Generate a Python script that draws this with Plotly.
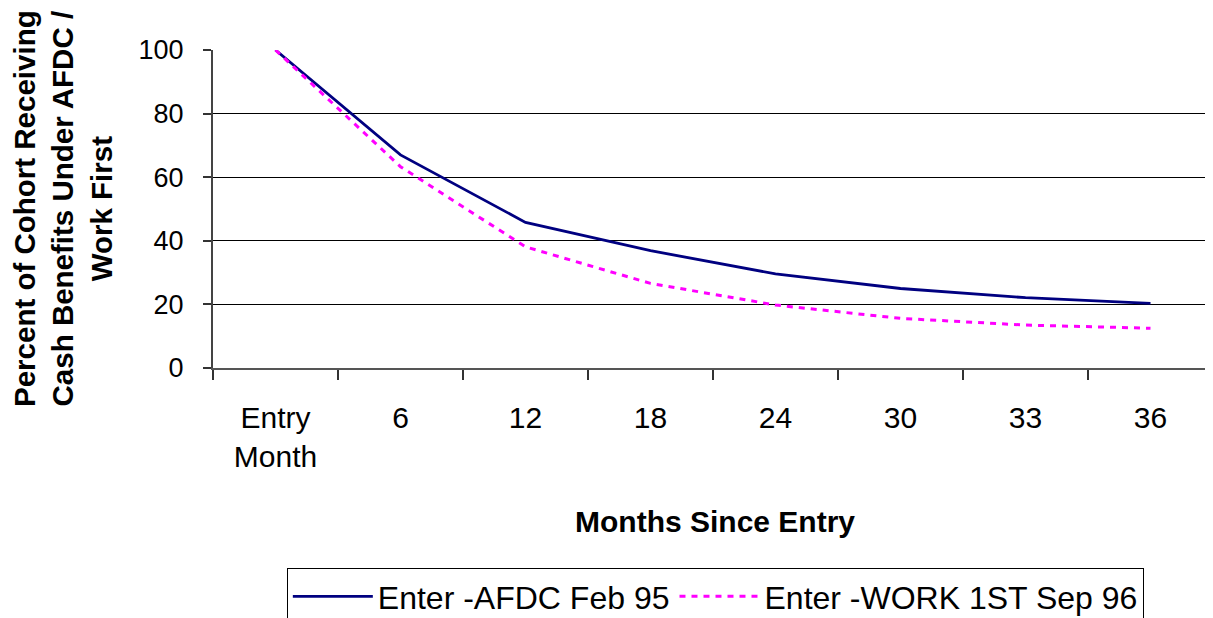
import plotly.graph_objects as go

categories = ["Entry<br>Month", "6", "12", "18", "24", "30", "33", "36"]
afdc_feb95 = [100, 67, 45.8, 36.9, 29.6, 25.0, 22.1, 20.3]
work1st_sep96 = [100, 63.3, 38.1, 26.6, 19.8, 15.6, 13.5, 12.5]
y_ticks = [0, 20, 40, 60, 80, 100]

FONT = "Liberation Sans, Arial, sans-serif"

# The page body has an 8px default margin, so the figure is sized 8px smaller
W, H = 1205, 610

fig = go.Figure()
fig.add_trace(go.Scatter(
    x=categories, y=afdc_feb95, mode="lines",
    name="Enter -AFDC Feb 95",
    line=dict(color="#000080", width=2.8),
))
fig.add_trace(go.Scatter(
    x=categories, y=work1st_sep96, mode="lines",
    name="Enter -WORK 1ST Sep 96",
    line=dict(color="#FF00FF", width=3, dash="6px,6px"),
))

fig.update_layout(
    width=W, height=H,
    margin=dict(l=205, r=0, t=42, b=250, autoexpand=False),
    paper_bgcolor="white", plot_bgcolor="white",
    font=dict(family=FONT, color="black"),
    showlegend=True,
    legend=dict(
        orientation="h",
        xref="container", yref="container",
        x=0.587, xanchor="center",
        y=(H - 560) / H, yanchor="top",
        font=dict(size=32, family=FONT, color="black"),
        bordercolor="black", borderwidth=1, bgcolor="white",
        itemwidth=80,
    ),
    xaxis=dict(
        type="category",
        categoryorder="array", categoryarray=categories,
        range=[-0.5, 7.5],
        tickson="boundaries",
        ticks="outside", ticklen=10, tickcolor="#333", tickwidth=1.5,
        showline=True, linecolor="#555", linewidth=2,
        showgrid=False, zeroline=False, automargin=False,
        tickfont=dict(size=30, family=FONT, color="black"),
        ticklabelstandoff=22,
    ),
    yaxis=dict(
        range=[0, 100],
        tickvals=y_ticks,
        ticks="outside", ticklen=8, tickcolor="#333", tickwidth=1.5,
        showline=True, linecolor="#444", linewidth=2,
        showgrid=True, gridcolor="black", gridwidth=1,
        zeroline=False, automargin=False,
        tickfont=dict(size=27, family=FONT, color="black"),
        ticklabelstandoff=14,
    ),
    annotations=[
        dict(
            text="<b>Percent of Cohort Receiving<br>Cash Benefits Under AFDC /<br>Work First</b>",
            xref="paper", yref="paper", x=-0.15, y=0.5,
            xanchor="center", yanchor="middle", textangle=-90,
            showarrow=False, font=dict(size=29.5, family=FONT, color="black"),
        ),
        dict(
            text="<b>Months Since Entry</b>",
            xref="paper", yref="paper", x=0.502, y=-0.484,
            xanchor="center", yanchor="middle",
            showarrow=False, font=dict(size=30, family=FONT, color="black"),
        ),
    ],
)

fig.write_html("out.html")
